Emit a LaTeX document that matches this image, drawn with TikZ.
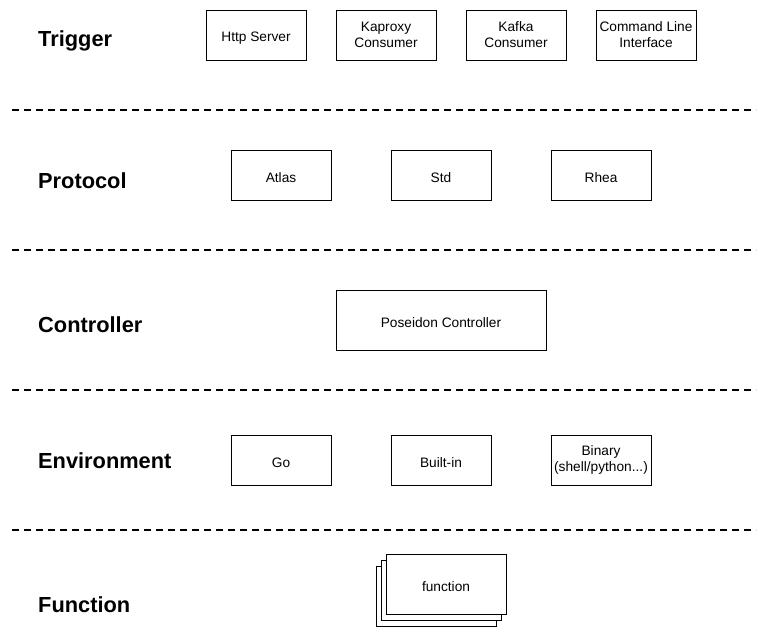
\documentclass[tikz,border=0pt]{standalone}
\usepackage{fontspec}
\setmainfont{Liberation Sans}
\usetikzlibrary{positioning}

\begin{document}
\begin{tikzpicture}
        [
            x=1pt, y=-1pt,
            layer/.style = {anchor=west, inner sep=0pt, font=\fontsize{21.8}{26}\selectfont\bfseries},
            box/.style = {draw, black, fill=white, line width=1pt, minimum width=100pt, minimum height=50pt,
                          align=center, inner sep=1pt, font=\fontsize{13.7}{16}\selectfont,
                          execute at begin node={\rule{0pt}{15pt}}},
            divider/.style = {draw, black, line width=2pt, dash pattern=on 7pt off 5pt},
            node distance=29pt
        ]%
        \useasboundingbox (0,0) rectangle (768,637);
        % layer names
        \node[layer] (trigger) at (38,41) {Trigger};
        \node[layer] (protocol) at (38,181) {Protocol};
        \node[layer] (controller) at (38,325) {Controller};
        \node[layer] (environment) at (38,461) {Environment};
        \node[layer] (function) at (38,605) {Function};
        % dashed separators
        \foreach \y [count=\i] in {110,250,390,530} {
            \coordinate (dl\i) at (12,\y);
            \coordinate (dr\i) at (756,\y);
            \draw[divider] (dl\i) -- (dr\i);
        }
        % trigger
        \node[box] (http) at (256,35) {Http Server};
        \node[box, right = of http] (kaproxy) {Kaproxy\\Consumer};
        \node[box, right = of kaproxy] (kafka) {Kafka\\Consumer};
        \node[box, right = of kafka] (cli) {Command Line\\Interface};
        % protocol
        \node[box] (atlas) at (281,175) {Atlas};
        \node[box, right = 59pt of atlas] (std) {Std};
        \node[box, right = 59pt of std] (rhea) {Rhea};
        % controller
        \node[box, minimum width=210pt, minimum height=60pt] (poseidon) at (441,320) {Poseidon Controller};
        % environment
        \node[box] (go) at (281,460) {Go};
        \node[box, right = 59pt of go] (builtin) {Built-in};
        \node[box, right = 59pt of builtin] (binary) {Binary\\(shell/python...)};
        % function stack
        \node[box, minimum width=120pt, minimum height=60pt] (fnback) at (436,596) {};
        \node[box, minimum width=120pt, minimum height=60pt] (fnmid) at (441,590) {};
        \node[box, minimum width=120pt, minimum height=60pt] (fn) at (446,584) {function};
\end{tikzpicture}
\end{document}
